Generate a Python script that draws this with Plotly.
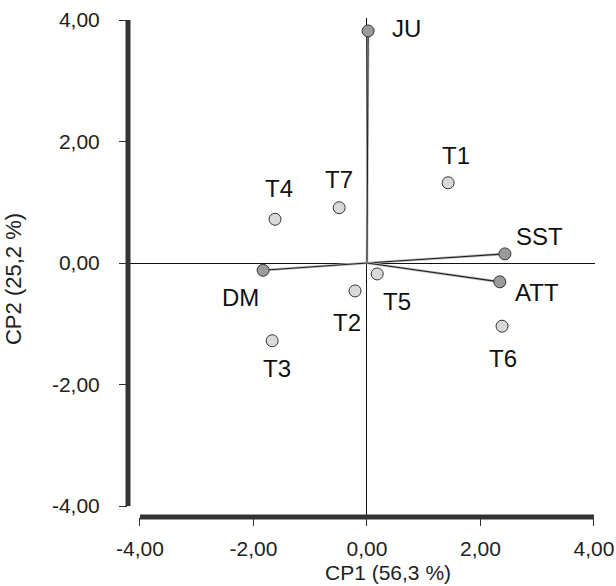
import plotly.graph_objects as go

# Observations (treatments)
obs_names = ["T1", "T2", "T3", "T4", "T5", "T6", "T7"]
obs_x = [1.43, -0.21, -1.67, -1.62, 0.18, 2.38, -0.49]
obs_y = [1.32, -0.46, -1.28, 0.72, -0.18, -1.04, 0.91]

# Variables (loading vectors)
var_names = ["JU", "SST", "DM", "ATT"]
var_x = [0.02, 2.43, -1.83, 2.34]
var_y = [3.82, 0.15, -0.12, -0.31]

tick_vals = [-4, -2, 0, 2, 4]
tick_text = ["-4,00", "-2,00", "0,00", "2,00", "4,00"]

x_title = "CP1 (56,3 %)"
y_title = "CP2 (25,2 %)"

# label offsets in pixels (x right, y up)
obs_offsets = {"T1": (8, 27), "T2": (-8, -32), "T3": (5, -28), "T4": (4, 31),
               "T5": (20, -28), "T6": (1, -32), "T7": (0, 28)}
var_offsets = {"JU": (38, 2), "SST": (35, 17), "DM": (-23, -27), "ATT": (37, -11)}

FONT = "Liberation Sans, Arial, Helvetica"

fig = go.Figure()

# vectors from origin
for n, x, y in zip(var_names, var_x, var_y):
    fig.add_trace(go.Scatter(x=[0, x], y=[0, y], mode="lines",
                             line=dict(color="#bdbdbd", width=2.6), hoverinfo="skip", showlegend=False))
    fig.add_trace(go.Scatter(x=[0, x], y=[0, y], mode="lines",
                             line=dict(color="#222222", width=1.1), hoverinfo="skip", showlegend=False))

fig.add_trace(go.Scatter(x=var_x, y=var_y, mode="markers", showlegend=False,
                         marker=dict(size=12, color="#9b9b9b", line=dict(color="#333333", width=1))))
fig.add_trace(go.Scatter(x=obs_x, y=obs_y, mode="markers", showlegend=False,
                         marker=dict(size=12, color="#d9d9d9", line=dict(color="#333333", width=1))))

for n, x, y in list(zip(obs_names, obs_x, obs_y)) + list(zip(var_names, var_x, var_y)):
    dx, dy = obs_offsets.get(n, var_offsets.get(n))
    fig.add_annotation(x=x, y=y, text=n, showarrow=False, xshift=dx, yshift=dy,
                       font=dict(family=FONT, size=24, color="#111111"))

# axis titles
fig.add_annotation(xref="paper", yref="paper", x=0.557, y=-0.111, text=x_title,
                   showarrow=False, xanchor="center", yanchor="middle", borderpad=0,
                   font=dict(family=FONT, size=21, color="#222222"))
fig.add_annotation(xref="paper", yref="paper", x=-0.244, y=0.477, text=y_title,
                   showarrow=False, textangle=-90, xanchor="center", yanchor="middle",
                   font=dict(family=FONT, size=22, color="#222222"))

# thick axis lines spanning -4..4
fig.add_shape(type="line", xref="x", yref="paper", x0=-4, x1=4, y0=0, y1=0,
              line=dict(color="#333333", width=5))
fig.add_shape(type="line", xref="paper", yref="y", x0=0, x1=0, y0=-4, y1=4,
              line=dict(color="#333333", width=5))

fig.update_layout(
    width=616, height=586,
    margin=dict(l=128, r=21, t=18, b=69),
    plot_bgcolor="white", paper_bgcolor="white",
    font=dict(family=FONT, size=21, color="#222222"),
    xaxis=dict(range=[-4.211, 4.018], tickvals=tick_vals, ticktext=tick_text,
               ticks="outside", ticklen=8, tickcolor="#333333", showgrid=False,
               zeroline=True, zerolinecolor="#111111", zerolinewidth=1, showline=False,
               automargin=False, ticklabelstandoff=5,
               tickfont=dict(size=21)),
    yaxis=dict(range=[-4.181, 4.033], tickvals=tick_vals, ticktext=tick_text,
               ticks="outside", ticklen=8, tickcolor="#333333", showgrid=False,
               zeroline=True, zerolinecolor="#111111", zerolinewidth=1, showline=False,
               automargin=False, ticklabelstandoff=15,
               tickfont=dict(size=21)),
)

fig.write_html("out.html", config={"displayModeBar": False},
               post_script="document.body.style.margin='0';document.body.style.overflow='hidden';")
